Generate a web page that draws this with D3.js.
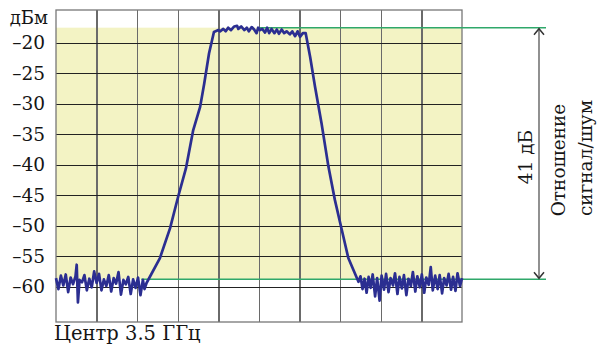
<!DOCTYPE html>
<html>
<head>
<meta charset="utf-8">
<script src="https://cdn.jsdelivr.net/npm/d3@7"></script>
<style>
  body { margin: 0; background: #fff; }
  svg { display: block; }
</style>
</head>
<body>
<svg id="chart" width="597" height="347"></svg>
<script>
// ---- data (x = offset from centre, 10 units per division; y = dBm) ----
var yTicks = [-20, -25, -30, -35, -40, -45, -50, -55, -60]
var xGrid = [-40, -30, -20, -10, 0, 10, 20, 30, 40]

var noiseLeftX = [-50.0, -49.4, -48.8, -48.2, -47.6, -47.0, -46.4, -45.8, -45.2, -44.9, -44.6, -44.2, -43.6,
  -43.0, -42.4, -41.8, -41.2, -40.6, -40.0, -39.4, -38.8, -38.2, -37.6, -37.0, -36.4, -35.8, -35.2,
  -34.6, -34.0, -33.4, -32.8, -32.2, -31.6, -31.0, -30.4, -29.8, -29.2, -28.6, -28.2]
var noiseLeftY = [-58.6, -60.4, -58.2, -59.8, -58.0, -60.9, -58.5, -59.6, -58.3, -56.4, -62.6, -58.9, -59.3,
  -58.1, -60.6, -58.7, -60.1, -57.5, -59.4, -57.9, -60.6, -58.8, -59.9, -58.1, -60.8, -58.6, -59.5,
  -57.6, -61.3, -58.9, -59.6, -58.4, -61.2, -58.8, -60.2, -58.5, -61.4, -58.9, -60.4]

var riseX = [-27.7, -24.4, -21.9, -19.9, -18.0, -16.2, -14.5, -13.5, -12.3, -11.1]
var riseY = [-59.4, -55.3, -50.4, -45.2, -40.6, -34.3, -30.5, -26.7, -21.7, -18.2]

var topX = [-10.0, -9.6, -8.8, -8.2, -7.6, -6.9, -6.1, -5.4, -5.1, -4.4, -3.6, -3.0, -2.5, -1.8, -1.2,
  -0.6, -0.2, 0.25, 0.8, 1.5, 2.0, 2.5, 3.1, 3.8, 4.4, 4.9, 5.6, 6.2, 6.8, 7.6, 8.2, 8.9, 9.5,
  10.1, 10.8, 11.3]
var topY = [-17.9, -18.1, -17.7, -18.1, -17.5, -17.9, -17.3, -17.2, -17.7, -17.3, -17.9, -17.5, -18.1, -17.4, -17.8,
  -18.4, -17.5, -17.9, -17.7, -18.3, -17.5, -18.4, -17.7, -18.4, -17.8, -18.5, -17.8, -18.4, -18.1, -18.6, -18.1, -18.9, -18.1,
  -19.0, -18.4, -18.4]

var fallX = [11.5, 12.6, 13.8, 15.4, 17.1, 18.7, 20.4, 22.0, 24.5]
var fallY = [-18.4, -22.3, -27.2, -33.2, -40.3, -45.8, -50.7, -55.3, -59.2]

var noiseRightX = [25.0, 25.5, 26.0, 26.5, 27.0, 27.5, 28.0, 28.6, 29.1, 29.7, 30.2, 30.8, 31.3, 31.9,
  32.4, 33.0, 33.5, 34.1, 34.6, 35.2, 35.7, 36.3, 36.8, 37.4, 37.9, 38.5, 39.0, 39.6, 40.1, 40.7,
  41.2, 41.8, 42.3, 42.8, 43.4, 44.0, 44.5, 45.1, 45.6, 46.2, 46.7, 47.3, 47.8, 48.4, 48.9, 49.5, 50.0]
var noiseRightY = [-58.3, -60.4, -58.7, -61.0, -58.4, -60.2, -58.0, -61.6, -58.6, -62.3, -58.2, -60.5, -57.9, -60.9,
  -58.6, -59.8, -57.8, -61.2, -58.4, -60.3, -58.1, -61.4, -58.7, -59.9, -57.6, -60.8, -58.3, -60.1, -58.0, -61.0,
  -58.5, -59.7, -56.8, -60.6, -58.2, -60.4, -58.1, -61.1, -58.6, -59.8, -57.9, -60.5, -58.4, -60.7, -57.8, -59.9, -58.6]

var signalLevel = -17.5
var noiseLevel = -58.8
var ratioLabel = "41 дБ"
var ratioText1 = "Отношение"
var ratioText2 = "сигнал/шум"
var unitLabel = "дБм"
var centreLabel = "Центр 3.5 ГГц"

// ---- layout ----
var svg = d3.select("#chart")
var plotL = 56, plotR = 462, plotT = 10, plotB = 322
var serif = "'DejaVu Serif', 'Liberation Serif', serif"

var xScale = d3.scaleLinear().domain([-50, 50]).range([plotL, plotR])
var yScale = d3.scaleLinear().domain([-65.8, -14.6]).range([plotB, plotT])

var trace = []
function addPts(xs, ys) { for (var i = 0; i < xs.length; i++) trace.push([xs[i], ys[i]]) }
addPts(noiseLeftX, noiseLeftY)
addPts(riseX, riseY)
addPts(topX, topY)
addPts(fallX, fallY)
addPts(noiseRightX, noiseRightY)

// yellow band between noise floor and signal level
svg.append("rect")
  .attr("x", plotL)
  .attr("y", yScale(signalLevel))
  .attr("width", plotR - plotL)
  .attr("height", yScale(noiseLevel) - yScale(signalLevel))
  .attr("fill", "#f3f3c4")

// vertical gridlines
svg.append("g")
  .attr("transform", "translate(0," + plotB + ")")
  .attr("shape-rendering", "crispEdges")
  .call(d3.axisBottom(xScale).tickValues(xGrid).tickSize(-(plotB - plotT)).tickFormat(""))
  .call(function(g) { g.select(".domain").remove() })
  .selectAll("line").attr("stroke", "#6a6a6a").attr("stroke-width", 1.5)

// horizontal gridlines
svg.append("g")
  .attr("transform", "translate(" + plotL + ",0)")
  .attr("shape-rendering", "crispEdges")
  .call(d3.axisLeft(yScale).tickValues(yTicks).tickSize(-(plotR - plotL)).tickFormat(""))
  .call(function(g) { g.select(".domain").remove() })
  .selectAll("line").attr("stroke", "#222").attr("stroke-width", 1.2)

// frame
svg.append("rect")
  .attr("x", plotL).attr("y", plotT)
  .attr("width", plotR - plotL).attr("height", plotB - plotT)
  .attr("fill", "none")
  .attr("stroke", "#777")
  .attr("stroke-width", 1.3)

// green reference lines
svg.append("line")
  .attr("x1", xScale(0)).attr("x2", 546)
  .attr("y1", yScale(signalLevel)).attr("y2", yScale(signalLevel))
  .attr("stroke", "#2fa86a").attr("stroke-width", 1.5)
svg.append("line")
  .attr("x1", xScale(-29)).attr("x2", 546)
  .attr("y1", yScale(noiseLevel)).attr("y2", yScale(noiseLevel))
  .attr("stroke", "#2fa86a").attr("stroke-width", 1.5)

// spectrum trace
var line = d3.line()
  .x(function(d) { return xScale(d[0]) })
  .y(function(d) { return yScale(d[1]) })
svg.append("path")
  .datum(trace)
  .attr("fill", "none")
  .attr("stroke", "#2b2e91")
  .attr("stroke-width", 2.7)
  .attr("stroke-linejoin", "round")
  .attr("d", line)

// arrow between levels
var ax = 539
var ay1 = yScale(signalLevel) + 1, ay2 = yScale(noiseLevel) - 1
svg.append("line")
  .attr("x1", ax).attr("x2", ax).attr("y1", ay1).attr("y2", ay2)
  .attr("stroke", "#555").attr("stroke-width", 1.3)
svg.append("path")
  .attr("d", "M" + (ax - 5) + "," + (ay1 + 6) + "L" + ax + "," + ay1 + "L" + (ax + 5) + "," + (ay1 + 6))
  .attr("fill", "none").attr("stroke", "#333").attr("stroke-width", 1.5)
svg.append("path")
  .attr("d", "M" + (ax - 5) + "," + (ay2 - 6) + "L" + ax + "," + ay2 + "L" + (ax + 5) + "," + (ay2 - 6))
  .attr("fill", "none").attr("stroke", "#333").attr("stroke-width", 1.5)

// y tick labels
var yLab = svg.append("g")
  .attr("transform", "translate(" + (plotL - 11) + ",0)")
  .call(d3.axisLeft(yScale).tickValues(yTicks).tickSize(0).tickPadding(0)
    .tickFormat(function(d) { return "\u2013" + Math.abs(d) }))
yLab.select(".domain").remove()
yLab.selectAll("text")
  .attr("font-family", serif)
  .attr("font-size", "18.5px")
  .attr("fill", "#151515")

svg.append("text")
  .attr("x", 48).attr("y", 24)
  .attr("text-anchor", "end")
  .attr("font-family", serif)
  .attr("font-size", "18px")
  .attr("fill", "#151515")
  .text(unitLabel)

svg.append("text")
  .attr("x", 54).attr("y", 340)
  .attr("font-family", serif)
  .attr("font-size", "19.5px")
  .attr("fill", "#151515")
  .text(centreLabel)

// rotated annotation
function vText(x, y, s) {
  svg.append("text")
    .attr("transform", "translate(" + x + "," + y + ")rotate(-90)")
    .attr("text-anchor", "middle")
    .attr("font-family", serif)
    .attr("font-size", "18.5px")
    .attr("fill", "#151515")
    .text(s)
}
vText(532, 157, ratioLabel)
vText(565, 160, ratioText1)
vText(592, 158, ratioText2)
</script>
</body>
</html>
